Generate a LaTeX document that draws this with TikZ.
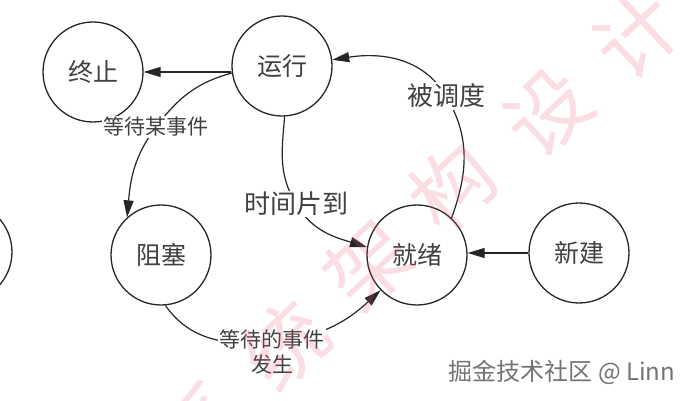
\documentclass[tikz,border=0pt]{standalone}
\usepackage{fontspec}
\setmainfont{Noto Sans CJK SC}
\usetikzlibrary{arrows.meta,calc}
\definecolor{wmpink}{RGB}{235,90,120}
\tikzset{
  proc/.style={draw=black!85,line width=1.3pt,circle,minimum size=100pt,inner sep=0pt,
    font=\fontsize{25}{28}\selectfont,text=black!75},
  flow/.style={line width=1.2pt,draw=black!85,-{Triangle[length=17pt,width=10pt]}},
  lab/.style={fill=white,inner sep=1.5pt,text=black!75,font=\fontsize{21}{25}\selectfont,align=center},
  biglab/.style={lab,font=\fontsize{26}{28}\selectfont},
  wm/.style={text=wmpink,text opacity=0.2,font=\fontsize{82}{82}\selectfont,rotate=43},
}

\begin{document}
\begin{tikzpicture}[x=1pt,y=-1pt]
\useasboundingbox (0,0) rectangle (697,401);
\clip (0,0) rectangle (697,401);
% States
\node[proc] (term) at (93,72) {终止};
\node[proc] (run) at (282,66) {运行};
\node[proc] (block) at (161,255) {阻塞};
\node[proc] (ready) at (417,255) {就绪};
\node[proc] (new) at (579,253) {新建};
\node[proc] (gone) at (-38,252) {};

% Transitions
\draw[flow] (run.west |- term.east) -- (term.east);
\draw[flow] (new.west) -- (new.west -| ready.east);

\coordinate (wq) at (156,127);
\draw[flow] (run.188) to[out=195,in=53] (wq) to[out=233,in=85] (block.132);
\coordinate (tq) at (296,204);
\draw[flow] (run.273) to[out=265,in=121] (tq) to[out=-59,in=163] (ready.171);
\coordinate (bq) at (446,96);
\draw[flow] (ready.47) to[out=70,in=-59] (bq) to[out=121,in=9] (run.7);
\coordinate (eq) at (272,342);
\draw[flow] (block.275) to[out=-55,in=185] (eq) to[out=5,in=223] (ready.224);

% Labels
\node[lab] (wlab) at (wq) {等待某事件};
\node[biglab] (tlab) at (tq) {时间片到};
\node[biglab] (blab) at (bq) {被调度};
\node[lab] (elab) at (272,352) {等待的事件\\发生};

% Watermarks
\node[font=\fontsize{24}{26}\selectfont,text=black!55] (site) at (562,372) {掘金技术社区 @ Linn};
\foreach \ch/\x/\y [count=\i] in {系/205/425,统/285/345,架/368/265,构/452/187,设/548/112,计/636/35}
  \node[wm] (wm\i) at (\x,\y) {\ch};
\end{tikzpicture}
\end{document}
